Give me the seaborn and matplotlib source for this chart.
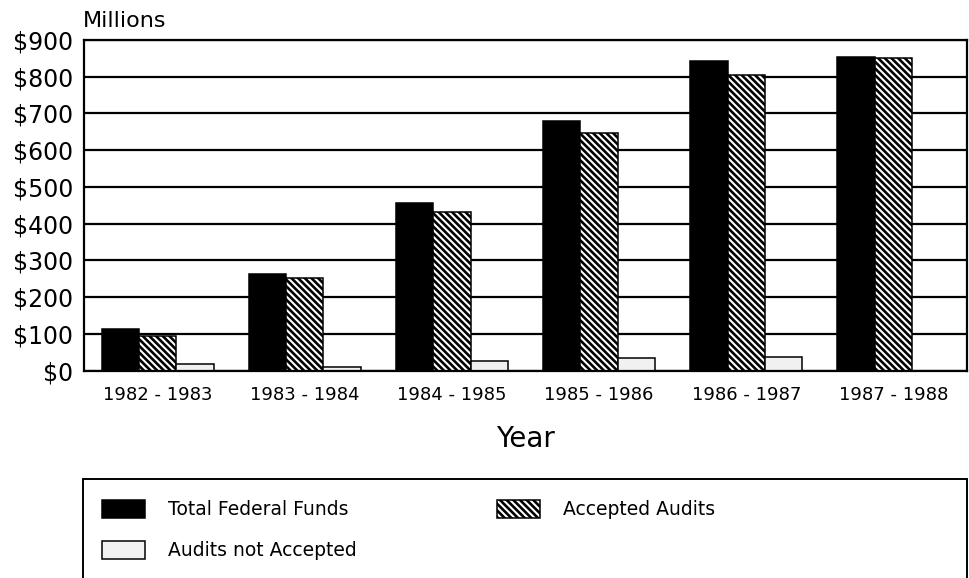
import matplotlib
matplotlib.use("Agg")
import matplotlib.pyplot as plt
import matplotlib.patches as mpatches
import seaborn as sns
import pandas as pd

years = ["1982 - 1983", "1983 - 1984", "1984 - 1985", "1985 - 1986", "1986 - 1987", "1987 - 1988"]
total_federal_funds = [112, 262, 455, 679, 843, 855]
accepted_audits = [94, 251, 432, 647, 804, 852]
audits_not_accepted = [18, 9, 25, 34, 38, 0]
series_names = ["Total Federal Funds", "Accepted Audits", "Audits not Accepted"]
y_ticks = [0, 100, 200, 300, 400, 500, 600, 700, 800, 900]
y_tick_labels = ["$0", "$100", "$200", "$300", "$400", "$500", "$600", "$700", "$800", "$900"]

df = pd.DataFrame({
    "Year": years * 3,
    "Series": [series_names[0]] * 6 + [series_names[1]] * 6 + [series_names[2]] * 6,
    "Value": total_federal_funds + accepted_audits + audits_not_accepted,
})

sns.set_theme(style="white")
plt.rcParams["font.family"] = ["DejaVu Sans"]
plt.rcParams["text.color"] = "black"
plt.rcParams["hatch.linewidth"] = 1.9

HATCH = "\\" * 5

fig = plt.figure(figsize=(9.69, 5.78), dpi=100)
ax = fig.add_axes([84 / 969, 1 - 370.5 / 578, (967 - 84) / 969, (370.5 - 40) / 578])

styles = {
    series_names[0]: dict(face="black", hatch=None),
    series_names[1]: dict(face="white", hatch=HATCH),
    series_names[2]: dict(face="#f1f1f1", hatch=None),
}

sns.barplot(data=df, x="Year", y="Value", hue="Series", hue_order=series_names,
            order=years, palette=["black", "white", "#f1f1f1"], width=0.76,
            edgecolor="black", linewidth=1.1, saturation=1, ax=ax, legend=False)

for name, cont in zip(series_names, ax.containers):
    for p in cont.patches:
        p.set_facecolor(styles[name]["face"])
        p.set_edgecolor("black")
        if styles[name]["hatch"]:
            p.set_hatch(styles[name]["hatch"])

ax.set_ylim(0, 900)
ax.set_xlim(-0.5, 5.5)
ax.set_yticks(y_ticks)
ax.set_yticklabels(y_tick_labels)
ax.yaxis.grid(True, color="black", linewidth=1.6)
ax.xaxis.grid(False)
ax.set_axisbelow(True)
for s in ax.spines.values():
    s.set_color("black")
    s.set_linewidth(1.6)
ax.tick_params(axis="both", length=0, colors="black")
ax.tick_params(axis="y", labelsize=17, pad=8)
ax.tick_params(axis="x", labelsize=13, pad=11)
ax.set_ylabel("")
ax.set_xlabel("Year", fontsize=20, labelpad=15, color="black")

fig.text(83 / 969, 1 - 27 / 578, "Millions", fontsize=16, ha="left", va="baseline", color="black")

handles = [
    mpatches.Patch(facecolor="black", edgecolor="black", linewidth=1.1),
    mpatches.Patch(facecolor="#f1f1f1", edgecolor="black", linewidth=1.1),
    mpatches.Patch(facecolor="white", edgecolor="black", linewidth=1.1, hatch=HATCH),
]
labels = [series_names[0], series_names[2], series_names[1]]
fig.legend(handles, labels, loc="upper left", bbox_to_anchor=(102 / 969, 1 - 500 / 578),
           bbox_transform=fig.transFigure, ncol=2, frameon=False, borderpad=0,
           borderaxespad=0, fontsize=13.5, handlelength=2.3, handleheight=1.1,
           handletextpad=1.2, labelspacing=1.15, columnspacing=7.5, labelcolor="black")

fig.add_artist(mpatches.Rectangle((83 / 969, -0.1), (967 - 83) / 969, 0.1 + (1 - 479 / 578),
                                  transform=fig.transFigure, fill=False, edgecolor="black",
                                  linewidth=1.4))

fig.savefig("out.png", dpi=100)
